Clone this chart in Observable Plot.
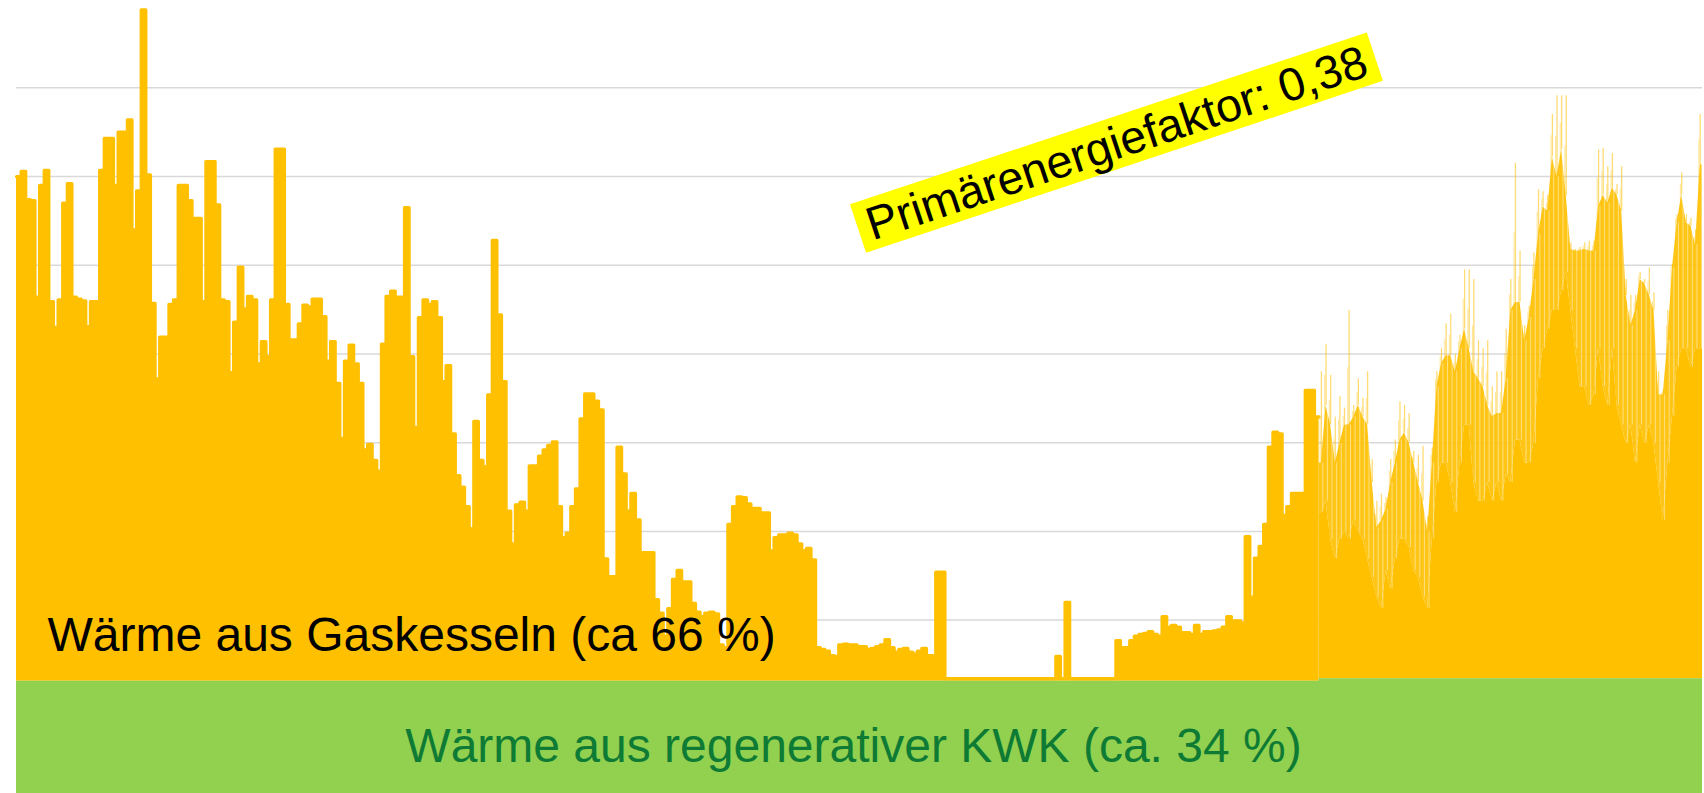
<!DOCTYPE html>
<html><head><meta charset="utf-8">
<script src="https://cdn.jsdelivr.net/npm/d3@7"></script>
<script src="https://cdn.jsdelivr.net/npm/@observablehq/plot@0.6"></script>
<style>
html,body{margin:0;padding:0;background:#fff;overflow:hidden}
#chart svg{display:block}
</style>
</head><body><div id="chart"></div>
<script>
// Daily heat from gas boilers (grid units), days 0..281 (hourly profile shown with thick outline)
const gasDaily = [
5.69,5.75,5.43,5.42,4.33,5.59,5.76,4.28,3.99,4.30,
5.39,5.61,4.33,4.31,4.29,4.00,4.28,4.28,5.76,6.12,
6.12,5.59,6.19,6.19,6.33,5.09,5.53,7.57,5.71,4.26,
3.41,3.88,3.88,4.25,4.30,5.59,5.59,5.42,5.22,5.22,
4.28,5.86,5.86,5.37,4.30,4.28,3.48,4.05,4.67,4.20,
4.34,4.30,3.58,3.83,3.66,4.30,6.00,6.00,4.25,3.85,
3.85,4.03,4.24,4.22,4.31,4.31,4.11,3.61,3.83,3.36,
2.74,3.61,3.79,3.58,3.36,2.61,2.67,2.49,2.37,3.80,
4.34,4.40,4.33,4.33,5.34,3.66,2.86,4.10,4.30,4.25,
4.28,4.10,3.38,3.56,2.79,2.32,2.19,1.97,1.72,2.93,
2.49,2.42,3.23,4.97,4.13,3.38,1.92,1.55,1.99,2.02,
1.92,2.43,2.43,2.54,2.61,2.66,2.70,1.97,1.62,1.67,
1.97,2.17,2.96,3.24,3.24,3.16,3.06,1.38,1.18,1.18,
2.64,2.34,1.92,2.12,1.82,1.45,1.45,1.45,0.92,0.77,
0.51,0.82,1.15,1.25,1.12,1.12,0.88,0.78,0.73,0.77,
0.78,0.76,0.41,0.38,1.77,1.97,2.08,2.07,2.00,1.95,
1.95,1.90,1.90,1.47,1.62,1.65,1.65,1.67,1.65,1.55,
1.47,1.50,1.37,0.38,0.36,0.34,0.29,0.28,0.41,0.42,
0.41,0.41,0.39,0.39,0.36,0.37,0.39,0.41,0.47,0.38,
0.33,0.36,0.37,0.33,0.31,0.34,0.37,0.29,0.29,1.23,
1.23,0.03,0.03,0.03,0.03,0.03,0.03,0.03,0.03,0.03,
0.03,0.03,0.03,0.03,0.03,0.03,0.03,0.03,0.03,0.03,
0.03,0.03,0.03,0.03,0.03,0.28,0.03,0.89,0.03,0.03,
0.03,0.03,0.03,0.03,0.03,0.03,0.03,0.03,0.46,0.38,
0.38,0.46,0.51,0.53,0.54,0.56,0.53,0.51,0.73,0.61,
0.63,0.61,0.55,0.55,0.53,0.63,0.53,0.56,0.56,0.57,
0.58,0.61,0.73,0.68,0.68,0.66,1.63,0.95,1.39,1.52,
1.77,2.64,2.81,2.79,1.87,1.97,2.12,2.12,2.12,3.28,
3.28,2.98
];
const rightStart = 282;
// Days 282..364 (hourly values drawn thin): daily minimum, typical and peak gas heat
const gasLow = [
1.87,2.00,1.57,1.35,1.57,1.65,1.57,1.78,1.65,1.57,
1.35,1.14,0.92,0.79,1.22,1.01,1.35,1.57,1.57,1.48,
1.22,1.14,0.92,0.79,1.57,2.21,2.43,2.43,2.21,1.87,
2.43,2.86,2.86,2.21,2.00,2.00,2.21,2.00,2.21,2.00,
2.30,2.21,2.69,2.69,2.43,2.43,2.65,3.38,3.72,3.94,
4.15,4.15,4.37,4.58,4.15,3.72,3.29,3.29,3.08,3.20,
3.72,3.29,3.08,3.72,3.08,2.86,2.65,2.86,2.43,2.86,
2.65,2.86,2.65,2.21,1.78,2.43,2.95,3.51,3.72,3.72,
3.51,3.72,3.72
];
const gasMid = [
2.43,3.08,2.86,2.43,2.65,2.86,2.86,2.95,3.08,2.95,
2.86,2.21,1.70,1.78,1.91,2.21,2.43,2.69,2.77,2.65,
2.43,2.21,2.00,1.65,2.43,3.29,3.55,3.64,3.64,3.46,
3.72,3.94,3.72,3.46,3.38,3.29,3.08,2.95,2.99,2.99,
3.38,4.15,4.24,4.24,3.81,4.07,4.50,5.01,5.32,5.27,
5.88,5.66,5.96,5.45,4.84,4.82,4.82,4.84,4.82,4.82,
5.32,5.45,5.36,5.53,5.45,5.27,4.32,3.98,4.15,4.50,
4.45,4.32,4.15,3.20,3.20,3.81,4.63,5.14,5.45,5.14,
5.10,4.89,5.79
];
const gasHigh = [
3.46,3.77,3.42,2.95,3.18,3.05,4.15,3.08,3.38,3.16,
3.46,2.47,2.00,2.08,2.04,2.47,2.69,3.12,3.08,2.99,
2.56,2.52,2.62,1.83,2.60,3.46,3.72,4.00,4.11,3.66,
3.87,4.61,4.61,4.50,3.81,3.72,3.81,3.29,3.46,3.46,
3.94,4.50,5.81,4.82,3.98,4.20,4.80,5.51,5.49,5.45,
6.36,6.57,6.57,6.57,4.91,4.84,4.86,4.91,4.93,4.93,
5.96,5.98,5.77,5.92,5.57,5.77,4.50,4.32,4.32,4.58,
4.50,4.63,4.35,3.46,3.25,4.15,4.67,5.23,5.70,5.23,
5.19,5.06,6.36
];
// Heat from renewable CHP (constant base), before / after day 282
const kwkLeft = 1.31;
const kwkRight = 1.34;
const gridTicks = [1, 2, 3, 4, 5, 6, 7, 8];
const labelGas = "Wärme aus Gaskesseln (ca 66 %)";
const labelKwk = "Wärme aus regenerativer KWK (ca. 34 %)";
const labelPef = "Primärenergiefaktor: 0,38";

const left = gasDaily.map((g, i) => ({x: i, base: kwkLeft, top: kwkLeft + g}));
left.push({x: rightStart, base: kwkLeft, top: kwkLeft + gasDaily[gasDaily.length - 1]});
const right = gasLow.map((g, i) => ({x: rightStart + i + 0.5, base: kwkRight, low: kwkRight + g, mid: kwkRight + gasMid[i], high: kwkRight + gasHigh[i]}));
right.unshift({...right[0], x: rightStart});
right.push({...right[right.length - 1], x: rightStart + gasLow.length});
const spikes = right.slice(1, -1);
const green = [
  {x: 0, y0: 0, y: kwkLeft},
  {x: rightStart, y0: 0, y: kwkRight},
  {x: rightStart + gasLow.length, y0: 0, y: kwkRight}
];
const gasLabel = [{x: 6.7, y: 1.657, t: labelGas}];
const kwkLabel = [{x: 181.2, y: 0.395, t: labelKwk}];
const pefLabel = [{x: 238.2, y: 7.371, t: labelPef}];

const ORANGE = "#FFC000";
const chart = Plot.plot({
  width: 1704, height: 793,
  marginLeft: 16, marginRight: 2, marginTop: 0, marginBottom: 0,
  x: {domain: [0, 365], axis: null},
  y: {domain: [0.045, 8.985], axis: null},
  style: {fontFamily: "'Liberation Sans', Arial, sans-serif", background: "transparent", overflow: "hidden"},
  marks: [
    Plot.ruleY(gridTicks, {stroke: "#d9d9d9", strokeWidth: 1.5, strokeOpacity: 1}),
    Plot.ruleX(spikes, {x: "x", y1: "mid", y2: "high", stroke: ORANGE, strokeWidth: 1.3, strokeOpacity: 0.55}),
    Plot.ruleX(spikes, {x: d => d.x - 0.3, y1: "low", y2: d => (d.mid + d.high) / 2, stroke: ORANGE, strokeWidth: 1, strokeOpacity: 0.4}),
    Plot.areaY(right, {x: "x", y1: "low", y2: "mid", curve: "linear", fill: ORANGE, fillOpacity: 0.9}),
    Plot.areaY(right, {x: "x", y1: "base", y2: "low", curve: "linear", fill: ORANGE}),
    Plot.ruleX(spikes, {x: d => d.x + 0.3, y1: "low", y2: "mid", stroke: "#fff", strokeWidth: 0.8, strokeOpacity: 0.55}),
    Plot.areaY(left, {x: "x", y1: "base", y2: "top", curve: "step-after", fill: ORANGE}),
    Plot.lineY(left, {x: "x", y: "top", curve: "step-after", stroke: ORANGE, strokeWidth: 3.2, strokeLinejoin: "round", strokeLinecap: "round"}),
    Plot.areaY(green, {x: "x", y1: "y0", y2: "y", curve: "step-after", fill: "#92D050"}),
    Plot.text(gasLabel, {x: "x", y: "y", text: "t", textAnchor: "start", lineAnchor: "bottom", fontSize: 48, fill: "#000"}),
    Plot.text(kwkLabel, {x: "x", y: "y", text: "t", textAnchor: "middle", lineAnchor: "bottom", fontSize: 48, fill: "#0E7B34"}),
    Plot.text(pefLabel, {x: "x", y: "y", text: "t", textAnchor: "middle", lineAnchor: "middle", fontSize: 46.5, fill: "#000", rotate: -18.4})
  ]
});
document.getElementById("chart").appendChild(chart);

// yellow highlight box behind the rotated label
const ns = "http://www.w3.org/2000/svg";
const pef = [...chart.querySelectorAll("text")].find(e => e.textContent === labelPef);
if (pef) {
  const bb = pef.getBBox();
  const r = document.createElementNS(ns, "rect");
  r.setAttribute("x", bb.x - 10);
  r.setAttribute("y", bb.y + 0.5);
  r.setAttribute("width", bb.width + 20);
  r.setAttribute("height", bb.height - 1);
  r.setAttribute("fill", "#FFFF00");
  const tf = pef.getAttribute("transform");
  if (tf) r.setAttribute("transform", tf);
  pef.parentNode.insertBefore(r, pef);
}
</script>
</body></html>
